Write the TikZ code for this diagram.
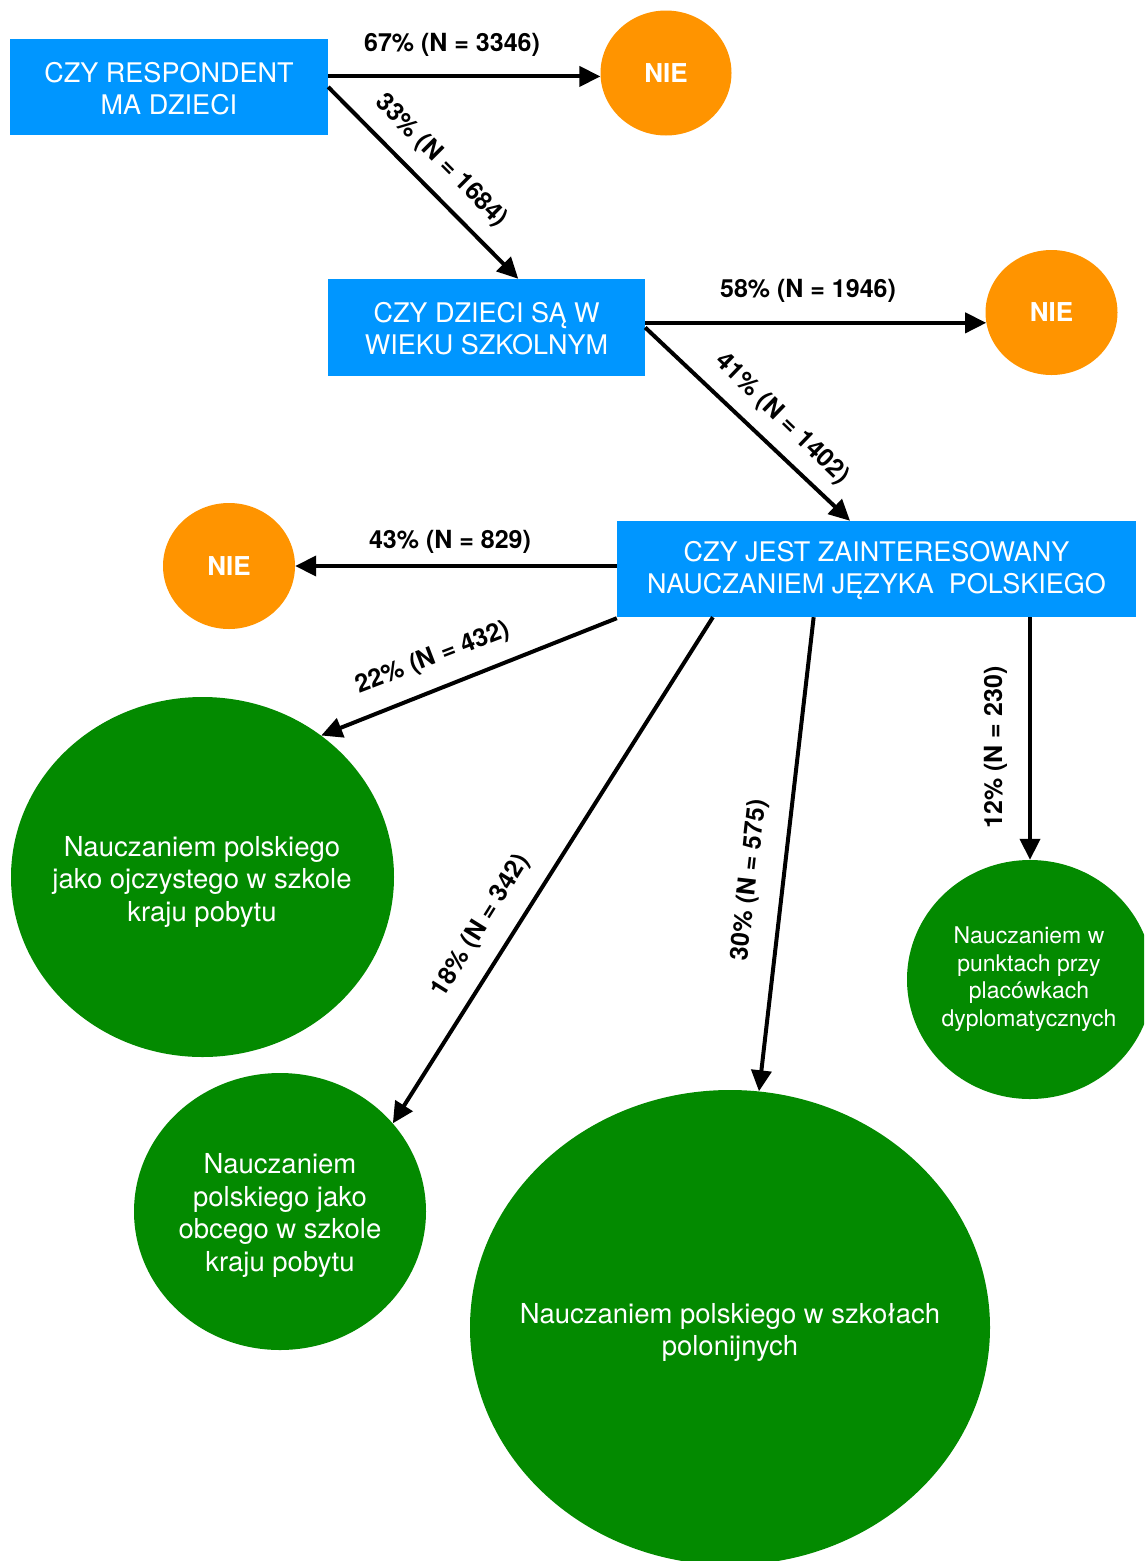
\documentclass[tikz,border=0pt]{standalone}
\usepackage{fontspec}
\setmainfont{TeX Gyre Heros}
\usetikzlibrary{shapes.geometric,arrows.meta,calc}
\definecolor{boxblue}{RGB}{0,150,255}
\definecolor{nieorange}{RGB}{255,148,0}
\definecolor{ggreen}{RGB}{3,138,0}
\begin{document}
\begin{tikzpicture}[x=1pt,y=-1pt,
  qbox/.style={rectangle, fill=boxblue, text=white, inner sep=0pt, align=center, font=\fontsize{27}{32}\selectfont},
  nie/.style={ellipse, fill=nieorange, text=white, inner sep=0pt, minimum width=131pt, minimum height=125pt, font=\fontsize{26}{30}\selectfont\bfseries},
  gcirc/.style={ellipse, fill=ggreen, inner sep=0pt},
  gtext/.style={text=white, align=center, inner sep=0pt, font=\fontsize{27.5}{32.5}\selectfont},
  gtextsmall/.style={text=white, align=center, inner sep=0pt, font=\fontsize{23}{27.5}\selectfont},
  arr/.style={line width=4pt, -{Triangle[length=21pt,width=20pt]}},
  lbl/.style={inner sep=0pt, font=\fontsize{25}{30}\selectfont\bfseries},
]
\useasboundingbox (0,0) rectangle (1144,1561);
\clip (0,0) rectangle (1144,1561);

% question boxes
\node[qbox, minimum width=318pt, minimum height=96pt] (b1) at (169,87) {};
\node[qbox, minimum width=317pt, minimum height=97pt] (b2) at (486.5,327.5) {};
\node[qbox, minimum width=519pt, minimum height=96pt] (b3) at (876.5,569) {};
\node[qbox] (b1t) at (169,89) {CZY RESPONDENT\\MA DZIECI};
\node[qbox] (b2t) at (486.5,329) {CZY DZIECI SĄ W\\WIEKU SZKOLNYM};
\node[qbox] (b3t) at (876.5,571) {CZY JEST ZAINTERESOWANY\\NAUCZANIEM JĘZYKA \ POLSKIEGO};

% NIE circles
\node[nie] (nie1) at (666,73) {NIE};
\node[nie, minimum width=132pt] (nie2) at (1051.5,312.5) {NIE};
\node[nie, minimum width=132pt, minimum height=126pt] (nie3) at (229,566) {NIE};

% green circles
\node[gcirc, minimum width=383pt, minimum height=360pt] (g1) at (202.5,877) {};
\node[gcirc, minimum width=292pt, minimum height=277pt] (g2) at (280,1211.5) {};
\node[gcirc, minimum width=520pt, minimum height=475pt] (g3) at (730,1327.5) {};
\node[gcirc, minimum width=246pt, minimum height=239pt] (g4) at (1030,979.5) {};

\node[gtext] (g1t) at (202,881.5) {Nauczaniem polskiego\\jako ojczystego w szkole\\kraju pobytu};
\node[gtext] (g2t) at (280,1215.5) {Nauczaniem\\polskiego jako\\obcego w szkole\\kraju pobytu};
\node[gtext] (g3t) at (730,1332.5) {Nauczaniem polskiego w szkołach\\polonijnych};
\node[gtextsmall] (g4t) at (1029,979) {Nauczaniem w\\punktach przy\\placówkach\\dyplomatycznych};

% connectors
\draw[arr] (b1.east |- nie1.183) -- (nie1.183);
\draw[arr] (b1.east) -- ($(b2.north west)!0.6!(b2.north east)$);
\draw[arr] (b2.east |- nie2.189) -- (nie2.189);
\draw[arr] (b2.east) -- ($(b3.north west)!0.449!(b3.north east)$);
\draw[arr] (b3.west |- nie3.east) -- (nie3.east);
\draw[arr] ([yshift=-1pt]b3.south west) -- (g1.50);
\draw[arr] ($(b3.south west)!0.185!(b3.south east)$) -- (g2.38);
\draw[arr] ($(b3.south west)!0.379!(b3.south east)$) -- (g3.83);
\draw[arr] (g4.north |- b3.south) -- (g4.north);

% labels
\node[lbl] (l1) at (452,45) {67\% (N = 3346)};
\node[lbl, rotate=-45] (l2) at (441,161) {33\% (N = 1684)};
\node[lbl] (l3) at (808,291) {58\% (N = 1946)};
\node[lbl, rotate=-44] (l4) at (782,419) {41\% (N = 1402)};
\node[lbl] (l5) at (450,542) {43\% (N = 829)};
\node[lbl, rotate=21] (l6) at (433,658) {22\% (N = 432)};
\node[lbl, rotate=58] (l7) at (481,926) {18\% (N = 342)};
\node[lbl, rotate=83.5] (l8) at (750,880) {30\% (N = 575)};
\node[lbl, rotate=90] (l9) at (995.5,747.5) {12\% (N = 230)};
\end{tikzpicture}
\end{document}
